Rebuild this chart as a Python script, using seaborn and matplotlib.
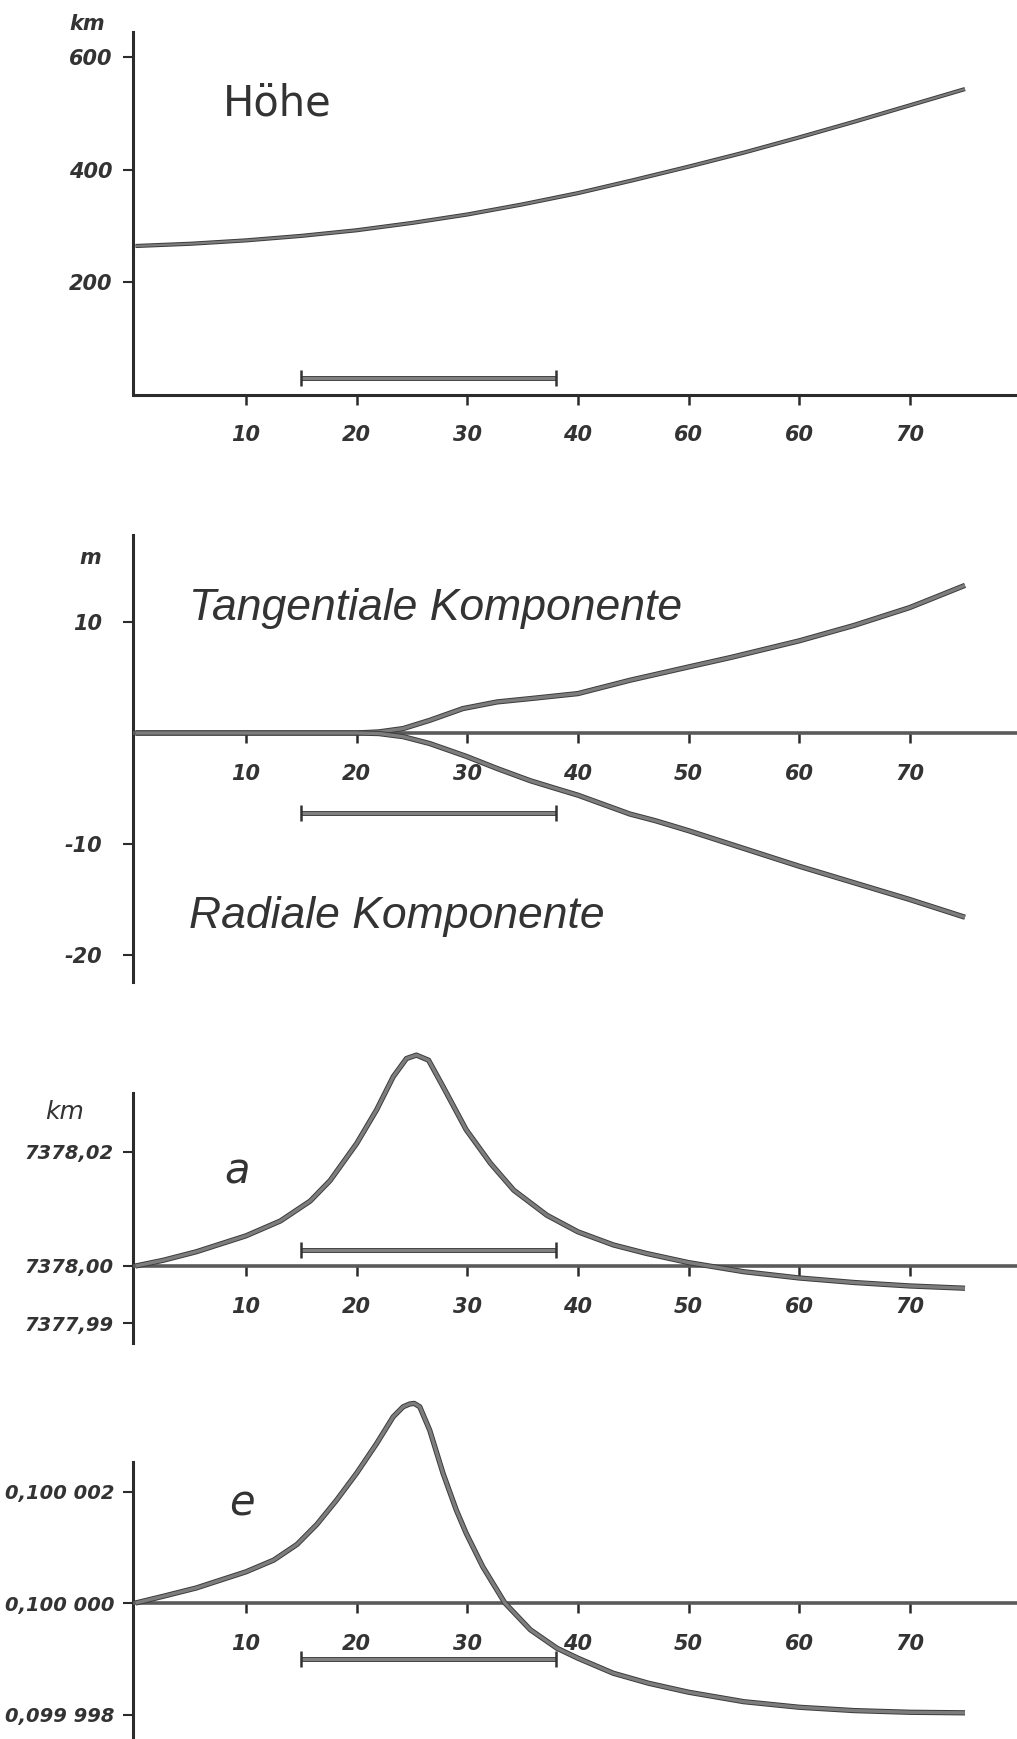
import matplotlib
matplotlib.use("Agg")
import matplotlib.pyplot as plt
import matplotlib.patheffects as pe
import seaborn as sns
import numpy as np
import pandas as pd

# ---------------- data ----------------
x_hoehe = [0, 5, 10, 15, 20, 25, 30, 35, 40, 45, 50, 55, 60, 65, 70, 75]
hoehe_km = [264, 268, 274, 282, 292, 305, 320, 338, 358, 381, 405, 430, 457, 485, 514, 543]

x_tang = [0, 20, 22, 24.2, 26.6, 29.6, 32.7, 35.7, 40, 44.7, 50, 53.8, 60, 65, 70, 75]
tang_m = [0, 0, 0.1, 0.4, 1.14, 2.2, 2.8, 3.1, 3.55, 4.75, 5.95, 6.8, 8.3, 9.7, 11.3, 13.3]

x_rad = [0, 20, 22, 24.2, 26.6, 29.9, 32.7, 35.7, 38, 40, 44.7, 47, 50, 55, 60, 65, 70, 75]
rad_m = [0, 0, -0.05, -0.33, -0.95, -2.1, -3.2, -4.3, -5.0, -5.6, -7.3, -7.9, -8.8, -10.4, -12.0, -13.5, -15.0, -16.6]

x_a = [0, 2.5, 5.5, 10, 13.1, 15.8, 17.6, 20, 21.8, 23.3, 24.5, 25.4, 26.5, 27.8, 29.9, 32.1,
       34.2, 37.2, 40, 43.2, 46.2, 50, 55, 60, 65, 70, 75]
a_km = [7378.0000, 7378.0010, 7378.0025, 7378.0053, 7378.0079, 7378.0114, 7378.0150, 7378.0215,
        7378.0274, 7378.0332, 7378.0364, 7378.0370, 7378.0361, 7378.0315, 7378.0239, 7378.0180,
        7378.0133, 7378.0089, 7378.0060, 7378.0037, 7378.0022, 7378.0006, 7377.9990, 7377.9979,
        7377.9971, 7377.9965, 7377.9961]

x_e = [0, 2.5, 5.5, 10, 12.5, 14.6, 16.4, 18.2, 20, 21.8, 23.3, 24.2, 24.8, 25.2, 25.7, 26.6,
       27.8, 29.0, 29.9, 31.4, 33.4, 35.7, 38.1, 40, 43.2, 46.4, 50, 55, 60, 65, 70, 75]
e_val = [0.10000000, 0.10000012, 0.10000027, 0.10000056, 0.10000077, 0.10000105, 0.10000141,
         0.10000185, 0.10000233, 0.10000286, 0.10000334, 0.10000352, 0.10000357, 0.10000358,
         0.10000352, 0.10000310, 0.10000233, 0.10000167, 0.10000125, 0.10000065, 0.10000000,
         0.09999952, 0.09999919, 0.09999901, 0.09999874, 0.09999856, 0.09999840, 0.09999823,
         0.09999813, 0.09999807, 0.09999804, 0.09999803]

bar_start, bar_end = 15, 38
bar_y = [29, -7.2, 7378.0028, 0.09999900]

xticks = [10, 20, 30, 40, 50, 60, 70]
xtick_labels_p1 = ["10", "20", "30", "40", "60", "60", "70"]
xtick_labels = ["10", "20", "30", "40", "50", "60", "70"]

yt1, yl1 = [600, 400, 200], ["600", "400", "200"]
yt2, yl2 = [10, -10, -20], ["10", "-10", "-20"]
yt3, yl3 = [7378.02, 7378.00, 7377.99], ["7378,02", "7378,00", "7377,99"]
yt4, yl4 = [0.100002, 0.100000, 0.099998], ["0,100 002", "0,100 000", "0,099 998"]

# ---------------- style ----------------
W, H = 1017, 1739
sns.set_theme(style="white")
plt.rcParams['font.family'] = ['DejaVu Sans']

DARK = '#2b2b2b'
TXT = '#333333'
LINEC = '#7d7d7d'

fig = plt.figure(figsize=(W / 100, H / 100), dpi=100)
fig.patch.set_facecolor('white')

X0PX, XSCALE = 135.5, 11.06
LEFT = 133


def add_ax(top, bottom):
    ax = fig.add_axes([LEFT / W, 1 - bottom / H, (W - LEFT) / W, (bottom - top) / H])
    ax.set_facecolor('none')
    ax.set_xlim((LEFT - X0PX) / XSCALE, (W - X0PX) / XSCALE)
    return ax


def ylim_from(ax, top, bottom, ref_px, ref_val, scale):
    ax.set_ylim(ref_val - (bottom - ref_px) / scale, ref_val + (ref_px - top) / scale)


def style_ax(ax, zero, spine_lo, spine_hi, yt, yl, ypad, xlabels, xcol, ysize=15):
    for s in ['top', 'right']:
        ax.spines[s].set_visible(False)
    ax.spines['left'].set_color(DARK)
    ax.spines['left'].set_linewidth(2.2)
    ax.spines['left'].set_bounds(spine_lo, spine_hi)
    ax.spines['bottom'].set_position(('data', zero))
    ax.spines['bottom'].set_color(xcol)
    ax.spines['bottom'].set_linewidth(2.6)
    ax.spines['bottom'].set_capstyle('butt')
    ax.set_xticks(xticks)
    ax.set_xticklabels(xlabels)
    ax.set_yticks(yt)
    ax.set_yticklabels(yl)
    ax.tick_params(axis='x', direction='out', length=7, width=1.8, color=DARK, pad=15,
                   labelsize=15, labelcolor=TXT, bottom=True)
    ax.tick_params(axis='y', direction='out', length=7, width=1.5, color=DARK, pad=ypad,
                   labelsize=ysize, labelcolor=TXT, left=True)
    for lab in ax.get_xticklabels() + ax.get_yticklabels():
        lab.set_fontstyle('italic')
        lab.set_fontweight('bold')
    ax.set_xlabel('')
    ax.set_ylabel('')
    ax.grid(False)


def curve(ax, x, y, lw):
    sns.lineplot(x=x, y=y, ax=ax, color=LINEC, linewidth=lw, sort=False,
                 path_effects=[pe.Stroke(linewidth=lw + 1.4, foreground='#3c3c3c'), pe.Normal()],
                 solid_capstyle='butt', solid_joinstyle='round', zorder=5)


def scalebar(ax, yv):
    ax.plot([bar_start, bar_end], [yv, yv], color='#808080', linewidth=2.4,
            path_effects=[pe.Stroke(linewidth=3.6, foreground='#3c3c3c'), pe.Normal()],
            solid_capstyle='butt', zorder=4)
    ax.plot([bar_start, bar_end], [yv, yv], linestyle='none', marker='|', markersize=11,
            markeredgewidth=1.8, color='#333333', zorder=4)


def ftxt(xpx, ypx, s, **kw):
    fig.text(xpx / W, 1 - ypx / H, s, color=TXT, **kw)


# ---------------- panel 1: Höhe ----------------
ax1 = add_ax(20, 402)
ylim_from(ax1, 20, 402, 394.5, 0, 0.5625)
curve(ax1, x_hoehe, hoehe_km, 1.6)
scalebar(ax1, bar_y[0])
style_ax(ax1, 0, 0, 644, yt1, yl1, 8, xtick_labels_p1, DARK)
ax1.spines['bottom'].set_linewidth(2.2)

# ---------------- panel 2: Komponenten ----------------
ax2 = add_ax(525, 990)
ylim_from(ax2, 525, 990, 733, 0, 11.1)
curve(ax2, x_tang, tang_m, 2.4)
curve(ax2, x_rad, rad_m, 2.4)
scalebar(ax2, bar_y[1])
style_ax(ax2, 0, -22.4, 17.8, yt2, yl2, 15, xtick_labels, '#5a5a5a')

# ---------------- panel 3: a ----------------
ax3 = add_ax(1045, 1348)
ylim_from(ax3, 1045, 1348, 1266, 7378.0, 5700)
curve(ax3, x_a, a_km, 2.4)
scalebar(ax3, bar_y[2])
style_ax(ax3, 7378.0, 7377.98649, 7378.03035, yt3, yl3, 7, xtick_labels, '#5a5a5a', ysize=14)

# ---------------- panel 4: e ----------------
ax4 = add_ax(1395, 1739)
ylim_from(ax4, 1395, 1739, 1603, 0.1, 55.75e6)
curve(ax4, x_e, e_val, 2.4)
scalebar(ax4, bar_y[3])
style_ax(ax4, 0.1, 0.0999, 0.10000253, yt4, yl4, 6, xtick_labels, '#5a5a5a', ysize=14)

# ---------------- texts ----------------
ftxt(223, 115, "Höhe", fontsize=30, va='baseline', ha='left')
title_font = ['Liberation Sans', 'DejaVu Sans']
ftxt(189, 620, "Tangentiale Komponente", fontsize=32, family=title_font, style='italic',
     va='baseline', ha='left')
ftxt(189, 928, "Radiale Komponente", fontsize=32, family=title_font, style='italic',
     va='baseline', ha='left')
ftxt(224, 1183, "a", fontsize=30, style='italic', va='baseline', ha='left')
ftxt(229, 1515, "e", fontsize=30, style='italic', va='baseline', ha='left')

ftxt(87, 24, "km", fontsize=15, style='italic', weight='bold', ha='center', va='center')
ftxt(90, 558, "m", fontsize=15, style='italic', weight='bold', ha='center', va='center')
ftxt(65, 1112, "km", fontsize=18, style='italic', ha='center', va='center')

fig.savefig("out.png", dpi=100, facecolor='white')
